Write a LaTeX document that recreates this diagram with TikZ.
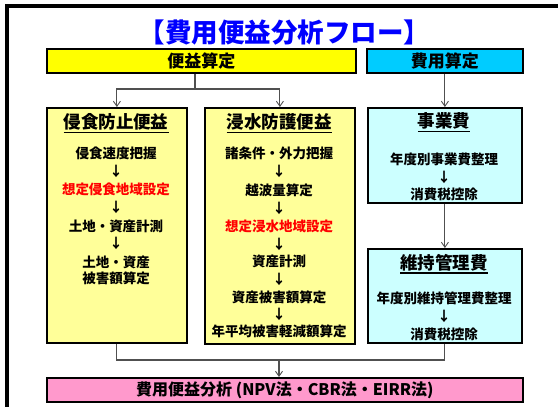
\documentclass[tikz,border=0pt]{standalone}
\usepackage{fontspec}
\setmainfont{Noto Sans CJK JP}
\usetikzlibrary{arrows.meta}
\definecolor{hy}{HTML}{FFFF00}
\definecolor{hc}{HTML}{00CCFF}
\definecolor{ly}{HTML}{FFFF99}
\definecolor{lc}{HTML}{CCFFFF}
\definecolor{pk}{HTML}{FF99CC}
\definecolor{tb}{HTML}{0000FF}
\definecolor{rd}{HTML}{FF0000}
\definecolor{cn}{HTML}{505050}
\newcommand\myul[1]{\leavevmode\vtop{\hbox{#1}\kern1.6pt\hrule height 1.5pt}}
\tikzset{
  box/.style={draw=black, line width=1.8pt, anchor=north west, inner sep=0pt},
  hdrtxt/.style={font=\fontsize{17}{17}\selectfont\bfseries},
  item/.style={font=\fontsize{13.5}{16}\selectfont\bfseries, inner sep=0pt, align=center},
  ttl/.style={font=\fontsize{17.5}{17.5}\selectfont\bfseries, inner sep=0pt},
  conn/.style={draw=cn, line width=1.1pt},
  arr/.style={-{Straight Barb[length=5pt,width=7pt,line width=0.9pt]}},
}
\begin{document}
\begin{tikzpicture}[x=1pt,y=-1pt]
\useasboundingbox (0,0) rectangle (558,407);
\draw[line width=3.6pt] (575,6) -- (7,6) -- (7,425);
% title
\node[font=\fontsize{26.5}{26.5}\selectfont\bfseries, text=tb, inner sep=0pt] (title) at (284.5,33) {【費用便益分析フロー】};
% headers
\node[box, fill=hy, minimum width=309, minimum height=24, hdrtxt] (hb) at (46,48) {便益算定};
\node[box, fill=hc, minimum width=156, minimum height=24, hdrtxt] (hcst) at (366,48) {費用算定};
% main boxes
\node[box, fill=ly, minimum width=140, minimum height=235] (L) at (46,107) {};
\node[box, fill=ly, minimum width=150, minimum height=236] (M) at (204,107) {};
\node[box, fill=lc, minimum width=154, minimum height=95] (C1) at (367,107) {};
\node[box, fill=lc, minimum width=154, minimum height=94] (C2) at (367,248) {};
\node[box, fill=pk, minimum width=476, minimum height=24, font=\fontsize{16}{16}\selectfont\bfseries] (P) at (46,377) {費用便益分析 (NPV法・CBR法・EIRR法)};
% left box texts
\node[ttl] (Lt) at (116,123.5) {\myul{侵食防止便益}};
\node[item] (L1) at (116,153.5) {侵食速度把握};
\node[item] (La1) at (116,171) {↓};
\node[item, text=rd] (L2) at (116,189) {想定侵食地域設定};
\node[item] (La2) at (116,207) {↓};
\node[item] (L3) at (116,226) {土地・資産計測};
\node[item] (La3) at (116,243.5) {↓};
\node[item] (L4) at (116,270) {土地・資産\\被害額算定};
% middle box texts
\node[ttl] (Mt) at (279,123.5) {\myul{浸水防護便益}};
\node[item] (M1) at (279,153.5) {諸条件・外力把握};
\node[item] (Ma1) at (279,171.5) {↓};
\node[item] (M2) at (279,190) {越波量算定};
\node[item] (Ma2) at (279,208) {↓};
\node[item, text=rd] (M3) at (279,226) {想定浸水地域設定};
\node[item] (Ma3) at (279,244) {↓};
\node[item] (M4) at (279,261.5) {資産計測};
\node[item] (Ma4) at (279,279.5) {↓};
\node[item] (M5) at (279,297) {資産被害額算定};
\node[item] (Ma5) at (279,314.5) {↓};
\node[item] (M6) at (279,331) {年平均被害軽減額算定};
% cost box 1
\node[ttl] (C1t) at (444,122.5) {\myul{事業費}};
\node[item] (C11) at (444,159) {年度別事業費整理};
\node[item] (C1a) at (444,177) {↓};
\node[item] (C12) at (444,194.5) {消費税控除};
% cost box 2
\node[ttl] (C2t) at (444,264) {\myul{維持管理費}};
\node[item] (C21) at (444,298.5) {年度別維持管理費整理};
\node[item] (C2a) at (444,316.5) {↓};
\node[item] (C22) at (444,334) {消費税控除};
% connectors
\coordinate (j1) at (195,89);
\coordinate (j2) at (279,360);
\draw[conn] (hb.south -| j1) -- (j1);
\draw[conn, arr] (j1) -| (L.north);
\draw[conn, arr] (j1) -| (M.north);
\draw[conn, arr] (hcst.south) -- (C1.north);
\draw[conn, arr] (C1.south) -- (C2.north);
\draw[conn] (L.south) |- (j2) -| (C2.south);
\draw[conn, arr] (j2) -- (j2 |- P.north);
\end{tikzpicture}
\end{document}
